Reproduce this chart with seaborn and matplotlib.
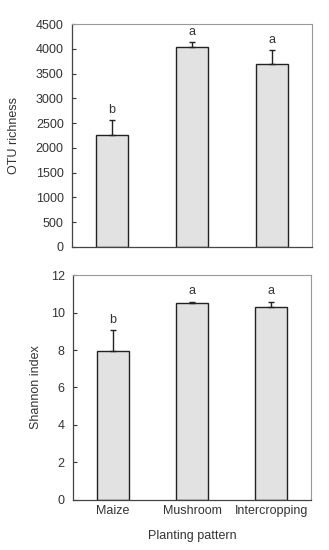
import numpy as np
import pandas as pd
import matplotlib
matplotlib.use("Agg")
import matplotlib.pyplot as plt
import seaborn as sns

# ── DATA ──────────────────────────────────────────────────────────────────────
patterns = ["Maize", "Mushroom", "Intercropping"]
otu_mean = [2260, 4030, 3690]
otu_sd = [300, 110, 290]
otu_letters = ["b", "a", "a"]
shannon_mean = [7.95, 10.50, 10.29]
shannon_sd = [1.10, 0.09, 0.30]
shannon_letters = ["b", "a", "a"]

sns.set_theme(style="white")
plt.rcParams["font.family"] = ["Liberation Sans", "DejaVu Sans"]
FS = 9

fig = plt.figure(figsize=(3.29, 5.5), dpi=100)
ax1 = fig.add_axes([0.219, 0.551, 0.729, 0.405])
ax2 = fig.add_axes([0.222, 0.0915, 0.723, 0.408])


def draw_panel(ax, means, sds, letters, ylim, yticks, ylabel, label_x):
    df = pd.DataFrame({"pattern": patterns, "value": means})
    sns.barplot(data=df, x="pattern", y="value", ax=ax, color="#e2e2e2",
                edgecolor="#222222", linewidth=1.0, width=0.4, saturation=1)
    ax.errorbar(np.arange(len(means)), means,
                yerr=[np.zeros(len(sds)), sds], fmt="none",
                ecolor="#222222", elinewidth=1.0, capsize=2.5, capthick=1.0)
    for i, (m, s, lab) in enumerate(zip(means, sds, letters)):
        ax.annotate(lab, (i, m + s), xytext=(0, 3), textcoords="offset points",
                    ha="center", va="bottom", fontsize=FS, color="#333333")
    ax.set_xlim(-0.5, 2.5)
    ax.set_ylim(*ylim)
    ax.set_yticks(yticks)
    ax.set_ylabel(ylabel, fontsize=FS, color="#333333")
    ax.yaxis.set_label_coords(label_x, 0.5)
    ax.set_xlabel("")
    ax.tick_params(axis="y", direction="in", length=3, width=0.8,
                   labelsize=FS, colors="#333333", left=True, pad=6)
    ax.tick_params(axis="x", length=0, labelsize=FS, colors="#333333", pad=4)
    for side in ["top", "right"]:
        ax.spines[side].set_color("#999999")
        ax.spines[side].set_linewidth(0.8)
    for side in ["left", "bottom"]:
        ax.spines[side].set_color("#444444")
        ax.spines[side].set_linewidth(0.9)


draw_panel(ax1, otu_mean, otu_sd, otu_letters, (0, 4500),
           range(0, 4501, 500), "OTU richness", -0.217)
ax1.set_xticklabels([])

draw_panel(ax2, shannon_mean, shannon_sd, shannon_letters, (0, 12),
           range(0, 13, 2), "Shannon index", -0.13)
ax2.set_xlabel("Planting pattern", fontsize=FS, color="#333333", labelpad=9)

fig.savefig("out.png", dpi=100)
